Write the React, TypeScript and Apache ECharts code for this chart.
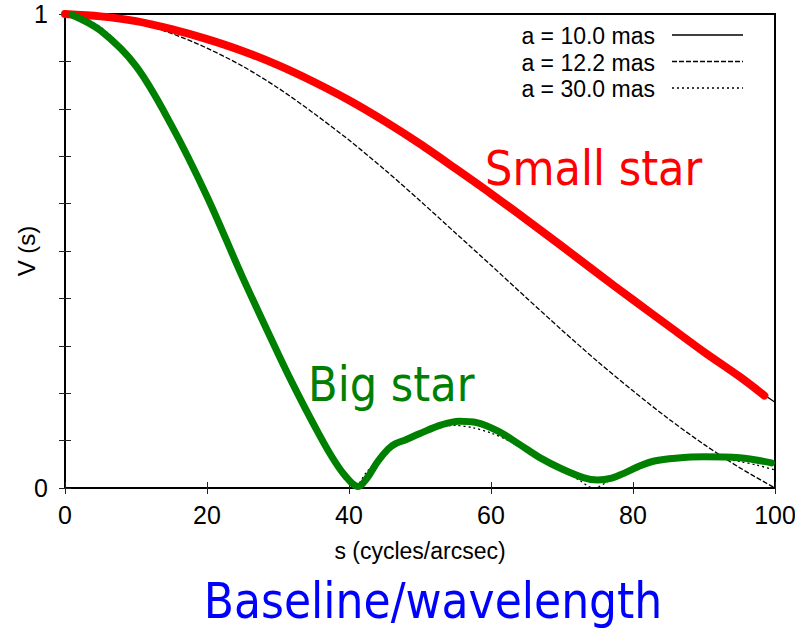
import React, { useEffect, useRef } from "react";
import * as echarts from "echarts";

// ---- data ----
// spatial frequency s (cycles/arcsec)
const sCoarse = [0, 5, 10, 15, 20, 25, 30, 35, 40, 45, 50, 55, 60, 65, 70, 75, 80, 85, 90, 95, 100];
// a = 10.0 mas (solid)
const vA10 = [1.0, 0.997, 0.988, 0.972, 0.951, 0.925, 0.893, 0.856, 0.815, 0.770, 0.722, 0.670, 0.617, 0.562, 0.506, 0.449, 0.393, 0.338, 0.283, 0.231, 0.181];
// a = 12.2 mas (dashed)
const vA122 = [1.0, 0.995, 0.982, 0.959, 0.928, 0.890, 0.844, 0.791, 0.734, 0.672, 0.606, 0.538, 0.470, 0.401, 0.333, 0.267, 0.205, 0.146, 0.092, 0.043, 0.0];
// a = 30.0 mas (dotted)
const sFine = [0, 2.5, 5, 7.5, 10, 12.5, 15, 17.5, 20, 22.5, 25, 27.5, 30, 32.5, 35, 37.5, 40, 40.7, 42.5, 45, 47.5, 50, 52.5, 55, 57.5, 60, 62.5, 65, 67.5, 70, 72.5, 74.4, 77.5, 80, 82.5, 85, 87.5, 90, 92.5, 95, 97.5, 100];
const vA30 = [1.0, 0.993, 0.972, 0.939, 0.893, 0.836, 0.770, 0.696, 0.617, 0.534, 0.449, 0.365, 0.283, 0.206, 0.134, 0.070, 0.013, 0.0, 0.034, 0.072, 0.100, 0.119, 0.129, 0.132, 0.127, 0.116, 0.100, 0.081, 0.060, 0.038, 0.016, 0.0, 0.023, 0.038, 0.050, 0.059, 0.063, 0.064, 0.061, 0.056, 0.048, 0.038];
// hand-drawn "Small star" overlay (red)
const sRed = [0, 5, 10, 15, 20, 25, 30, 35, 40, 45, 50, 55, 60, 65, 70, 75, 80, 85, 90, 95, 98.5];
const vRed = [1.0, 0.995, 0.985, 0.968, 0.947, 0.922, 0.892, 0.857, 0.818, 0.774, 0.726, 0.674, 0.621, 0.566, 0.510, 0.453, 0.397, 0.342, 0.287, 0.235, 0.195];
// hand-drawn "Big star" overlay (green)
const sGreen = [1, 5, 10, 15, 20, 25, 30, 32.5, 35, 37.5, 39.5, 41.3, 42.5, 44, 45.5, 46.5, 48, 50, 53, 55.5, 58, 61, 64, 67, 70, 73, 75, 77, 79, 81, 83, 86, 90, 95, 99.5];
const vGreen = [0.998, 0.965, 0.89, 0.765, 0.615, 0.445, 0.284, 0.207, 0.135, 0.068, 0.025, 0.003, 0.02, 0.055, 0.082, 0.093, 0.102, 0.115, 0.133, 0.141, 0.138, 0.120, 0.092, 0.063, 0.040, 0.022, 0.017, 0.021, 0.033, 0.047, 0.057, 0.063, 0.066, 0.064, 0.053];

const legendNames = ["a = 10.0 mas", "a = 12.2 mas", "a = 30.0 mas"];
const xAxisTitle = "s (cycles/arcsec)";
const yAxisTitle = "V (s)";
const smallLabel = "Small star";
const bigLabel = "Big star";
const caption = "Baseline/wavelength";

const pairs = (xs: number[], ys: number[]) => xs.map((x, i) => [x, ys[i]]);

const tickFont = "Liberation Sans";
const annFont = "DejaVu Sans Condensed";

export default function App() {
  const ref = useRef<HTMLDivElement>(null);
  useEffect(() => {
    if (!ref.current) return;
    const chart = echarts.init(ref.current, undefined, { renderer: "svg" });
    const axisTick = { show: true, inside: true, length: 6, lineStyle: { color: "#222", width: 1 } };
    const legendY = [36, 62.5, 89];
    const legendDash: any[] = ["solid", [5, 2], [2, 3]];
    const graphic: any[] = [];
    legendNames.forEach((n, i) => {
      graphic.push({
        type: "text",
        x: 655,
        y: legendY[i],
        style: { text: n, align: "right", verticalAlign: "middle", fontFamily: tickFont, fontSize: 23, fill: "#000" },
      });
      graphic.push({
        type: "line",
        shape: { x1: 672, y1: legendY[i] - 1, x2: 743, y2: legendY[i] - 1 },
        style: { stroke: "#000", lineWidth: 1.3, lineDash: legendDash[i] === "solid" ? null : legendDash[i] },
      });
    });
    graphic.push({
      type: "text",
      x: 485,
      y: 168,
      style: { text: smallLabel, align: "left", verticalAlign: "middle", fontFamily: annFont, fontSize: 48, fill: "#ff0000" },
    });
    graphic.push({
      type: "text",
      x: 308,
      y: 384,
      style: { text: bigLabel, align: "left", verticalAlign: "middle", fontFamily: annFont, fontSize: 48, fill: "#008000" },
    });
    graphic.push({
      type: "text",
      x: 433,
      y: 601,
      style: { text: caption, align: "center", verticalAlign: "middle", fontFamily: annFont, fontSize: 49, fill: "#0000ff" },
    });

    chart.setOption({
      animation: false,
      backgroundColor: "#fff",
      grid: {
        show: true,
        left: 65,
        right: 20,
        top: 14,
        bottom: 141,
        containLabel: false,
        outerBoundsMode: "none",
        borderColor: "#000",
        borderWidth: 2,
        backgroundColor: "transparent",
      },
      xAxis: [
        {
          type: "value",
          min: 0,
          max: 100,
          interval: 20,
          position: "bottom",
          axisLine: { show: false },
          axisTick,
          splitLine: { show: false },
          axisLabel: { fontFamily: tickFont, fontSize: 25, color: "#000", margin: 14 },
          name: xAxisTitle,
          nameLocation: "middle",
          nameGap: 51,
          nameTextStyle: { fontFamily: tickFont, fontSize: 23, color: "#000" },
        },
        {
          type: "value",
          min: 0,
          max: 100,
          interval: 20,
          position: "top",
          axisLine: { show: false },
          axisTick,
          splitLine: { show: false },
          axisLabel: { show: false },
        },
      ],
      yAxis: [
        {
          type: "value",
          min: 0,
          max: 1,
          interval: 0.1,
          position: "left",
          axisLine: { show: false },
          axisTick,
          splitLine: { show: false },
          axisLabel: {
            fontFamily: tickFont,
            fontSize: 25,
            color: "#000",
            margin: 17,
            formatter: (v: number) => (Math.abs(v) < 1e-9 ? "0" : Math.abs(v - 1) < 1e-9 ? "1" : ""),
          },
          name: yAxisTitle,
          nameLocation: "middle",
          nameGap: 27,
          nameRotate: 90,
          nameMoveOverlap: false,
          nameTextStyle: { fontFamily: tickFont, fontSize: 24, color: "#000" },
        },
        {
          type: "value",
          min: 0,
          max: 1,
          interval: 0.1,
          position: "right",
          axisLine: { show: false },
          axisTick,
          splitLine: { show: false },
          axisLabel: { show: false },
        },
      ],
      series: [
        {
          name: legendNames[0],
          type: "line",
          data: pairs(sCoarse, vA10),
          showSymbol: false,
          symbol: "none",
          smooth: 0.3,
          lineStyle: { color: "#000", width: 1.3 },
          z: 2,
        },
        {
          name: legendNames[1],
          type: "line",
          data: pairs(sCoarse, vA122),
          showSymbol: false,
          symbol: "none",
          smooth: 0.3,
          lineStyle: { color: "#000", width: 1.3, type: [5, 2] },
          z: 2,
        },
        {
          name: legendNames[2],
          type: "line",
          data: pairs(sFine, vA30),
          showSymbol: false,
          symbol: "none",
          smooth: 0.3,
          lineStyle: { color: "#000", width: 1.3, type: [2, 3] },
          z: 2,
        },
        {
          name: smallLabel,
          type: "line",
          data: pairs(sRed, vRed),
          showSymbol: false,
          symbol: "none",
          smooth: 0.3,
          lineStyle: { color: "#ff0000", width: 8, cap: "round", join: "round" },
          z: 3,
        },
        {
          name: bigLabel,
          type: "line",
          data: pairs(sGreen, vGreen),
          showSymbol: false,
          symbol: "none",
          smooth: 0.35,
          lineStyle: { color: "#008000", width: 7, cap: "round", join: "round" },
          z: 3,
        },
      ],
      graphic,
    });
    return () => chart.dispose();
  }, []);
  return <div ref={ref} style={{ position: "fixed", left: 0, top: 0, width: 795, height: 629 }} />;
}
